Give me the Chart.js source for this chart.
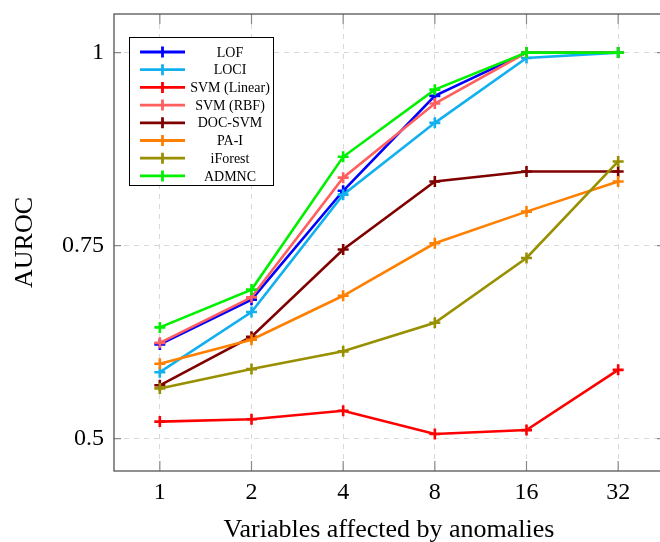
<!DOCTYPE html>
<html><head><meta charset="utf-8">
<script src="https://cdn.jsdelivr.net/npm/chart.js@4/dist/chart.umd.min.js"></script>
<style>
html,body{margin:0;padding:0;overflow:hidden;background:#fff;width:660px;height:542px}
#wrap{position:relative;width:670px;height:542px}
canvas{display:block}
</style>
</head><body><div id="wrap"><canvas id="c" width="670" height="542"></canvas></div>
<script>
// ---- data ----
const categories = ['1', '2', '4', '8', '16', '32'];
const seriesNames = ['LOF', 'LOCI', 'SVM (Linear)', 'SVM (RBF)', 'DOC-SVM', 'PA-I', 'iForest', 'ADMNC'];
const lof       = [0.622, 0.680, 0.821, 0.944, 1.000, 1.000];
const loci      = [0.586, 0.664, 0.816, 0.909, 0.993, 1.000];
const svmLinear = [0.522, 0.525, 0.536, 0.506, 0.511, 0.589];
const svmRbf    = [0.624, 0.683, 0.838, 0.934, 1.000, 1.000];
const docSvm    = [0.569, 0.632, 0.745, 0.833, 0.846, 0.846];
const paI       = [0.597, 0.628, 0.685, 0.753, 0.794, 0.833];
const iForest   = [0.565, 0.590, 0.613, 0.650, 0.734, 0.859];
const admnc     = [0.644, 0.693, 0.865, 0.952, 1.000, 1.000];
const yTickValues = [0.5, 0.75, 1];
const yTickLabels = ['0.5', '0.75', '1'];
const xTitle = 'Variables affected by anomalies';
const yTitle = 'AUROC';

// ---- styles ----
const seriesValues = [lof, loci, svmLinear, svmRbf, docSvm, paI, iForest, admnc];
const colors = ['#0000ff', '#12b0ee', '#ff0000', '#ff5f5f', '#800000', '#ff8000', '#989000', '#00f000'];
const SERIF = "'Liberation Serif', 'Times New Roman', serif";

const datasets = seriesNames.map((name, i) => ({
  label: name,
  data: seriesValues[i],
  borderColor: colors[i],
  backgroundColor: colors[i],
  borderWidth: 2.6,
  pointStyle: 'cross',
  pointRadius: 5.5,
  pointBorderWidth: 2.6,
  pointHoverRadius: 5.5,
  tension: 0,
  fill: false,
  order: -i
}));

const framePlugin = {
  id: 'frame',
  afterDatasetsDraw(chart) {
    const ctx = chart.ctx;
    const a = chart.chartArea;
    const xs = chart.scales.x, ys = chart.scales.y;
    ctx.save();
    // inward ticks
    ctx.strokeStyle = '#8a8a8a';
    ctx.lineWidth = 1.2;
    ctx.beginPath();
    categories.forEach((c, i) => {
      const px = xs.getPixelForValue(i);
      ctx.moveTo(px, a.bottom); ctx.lineTo(px, a.bottom - 10);
      ctx.moveTo(px, a.top); ctx.lineTo(px, a.top + 10);
    });
    yTickValues.forEach(v => {
      const py = ys.getPixelForValue(v);
      ctx.moveTo(a.left, py); ctx.lineTo(a.left + 7, py);
      ctx.moveTo(a.right, py); ctx.lineTo(a.right - 7, py);
    });
    ctx.stroke();
    // frame
    ctx.strokeStyle = '#555';
    ctx.lineWidth = 1.3;
    ctx.strokeRect(a.left, a.top, a.right - a.left, a.bottom - a.top);

    // legend
    const lx = 129.5, ly = 37.5, lw = 144, lh = 148;
    ctx.fillStyle = '#fff';
    ctx.fillRect(lx, ly, lw, lh);
    ctx.strokeStyle = '#000';
    ctx.lineWidth = 1;
    ctx.strokeRect(lx, ly, lw, lh);
    ctx.font = '14px ' + SERIF;
    ctx.textAlign = 'center';
    ctx.textBaseline = 'middle';
    chart.data.datasets.forEach((ds, i) => {
      const y = 52 + i * 17.7;
      ctx.strokeStyle = ds.borderColor;
      ctx.lineWidth = 2.8;
      ctx.beginPath();
      ctx.moveTo(140, y); ctx.lineTo(185, y);
      ctx.moveTo(162.5, y - 5.5); ctx.lineTo(162.5, y + 5.5);
      ctx.stroke();
      ctx.fillStyle = '#000';
      ctx.fillText(ds.label, 230, y + 1);
    });

    // axis titles
    ctx.fillStyle = '#000';
    ctx.font = '26px ' + SERIF;
    ctx.textAlign = 'center';
    ctx.textBaseline = 'alphabetic';
    ctx.fillText(xTitle, 389, 537);
    ctx.save();
    ctx.translate(32, (a.top + a.bottom) / 2);
    ctx.rotate(-Math.PI / 2);
    ctx.fillText(yTitle, 0, 0);
    ctx.restore();
    ctx.restore();
  }
};

new Chart(document.getElementById('c'), {
  type: 'line',
  data: { labels: categories, datasets },
  options: {
    responsive: false,
    animation: false,
    devicePixelRatio: 1,
    layout: { padding: { top: 14, right: 6, left: 0, bottom: 0 }, autoPadding: false },
    plugins: { legend: { display: false }, tooltip: { enabled: false }, title: { display: false } },
    scales: {
      x: {
        type: 'category',
        offset: true,
        grid: { offset: false, color: '#d9d9d9', lineWidth: 1, drawTicks: false },
        border: { display: false, dash: [5, 5] },
        ticks: { color: '#000', font: { family: SERIF, size: 24 }, padding: 7, maxRotation: 0 },
        afterFit(s) { s.height = 71; s.paddingLeft = 0; s.paddingRight = 0; }
      },
      y: {
        type: 'linear',
        min: 0.458,
        max: 1.05,
        grid: { color: '#d9d9d9', lineWidth: 1, drawTicks: false },
        border: { display: false, dash: [5, 5] },
        afterBuildTicks(s) { s.ticks = yTickValues.map(v => ({ value: v })); },
        ticks: {
          color: '#000',
          font: { family: SERIF, size: 24 },
          padding: 10,
          callback(v) { const k = yTickValues.indexOf(v); return k >= 0 ? yTickLabels[k] : ''; }
        },
        afterFit(s) { s.width = 114; s.paddingTop = 0; s.paddingBottom = 0; }
      }
    }
  },
  plugins: [framePlugin]
});
</script>
</body></html>
